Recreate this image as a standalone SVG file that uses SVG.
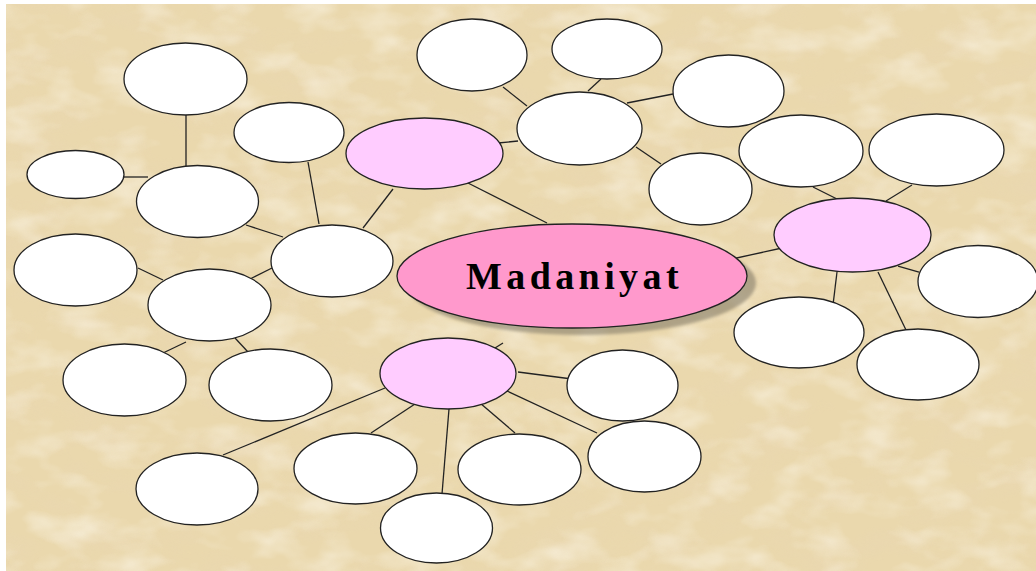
<svg xmlns="http://www.w3.org/2000/svg" width="1036" height="571" viewBox="0 0 1036 571">
<defs>
<filter id="tex" x="0" y="0" width="100%" height="100%">
<feTurbulence type="fractalNoise" baseFrequency="0.015 0.03" numOctaves="4" seed="7" result="n"/>
<feColorMatrix type="matrix" values="0 0 0 0 0.82  0 0 0 0 0.68  0 0 0 0 0.44  2.2 0 0 0 -0.95" />
</filter>
<filter id="tex2" x="0" y="0" width="100%" height="100%">
<feTurbulence type="fractalNoise" baseFrequency="0.02 0.035" numOctaves="3" seed="21"/>
<feColorMatrix type="matrix" values="0 0 0 0 0.98  0 0 0 0 0.94  0 0 0 0 0.84  2.0 0 0 0 -0.9" />
</filter>
<filter id="blur" x="-10%" y="-20%" width="120%" height="140%"><feGaussianBlur stdDeviation="1.5"/></filter>
</defs>
<style>
.n{fill:#fff;stroke:#222;stroke-width:1.3}
.p{fill:#ffccff;stroke:#222;stroke-width:1.3}
.c{fill:#ff99cc;stroke:#222;stroke-width:1.3}
.e line{stroke:#222;stroke-width:1.3}
.t{font-family:"Liberation Serif","Times New Roman",serif;font-weight:bold;font-size:38px;fill:#000;letter-spacing:4.4px}
</style>
<rect x="0" y="0" width="1036" height="571" fill="#ffffff"/>
<rect x="6" y="4" width="1030" height="567" fill="#ead8ad"/>
<rect x="6" y="4" width="1030" height="567" filter="url(#tex)" opacity="0.8"/>
<rect x="6" y="4" width="1030" height="567" filter="url(#tex2)" opacity="0.6"/>
<g id="connectors" class="e">
<line x1="186" y1="115" x2="186" y2="166"/>
<line x1="124" y1="177" x2="148" y2="177"/>
<line x1="246" y1="225" x2="283" y2="237"/>
<line x1="308" y1="162" x2="319" y2="224"/>
<line x1="393" y1="189" x2="363" y2="228"/>
<line x1="138" y1="268" x2="163" y2="280"/>
<line x1="250" y1="279" x2="272" y2="268"/>
<line x1="163" y1="353" x2="186" y2="342"/>
<line x1="235" y1="338" x2="248" y2="352"/>
<line x1="498" y1="143" x2="518" y2="141"/>
<line x1="468" y1="183" x2="547" y2="223"/>
<line x1="503" y1="87" x2="527" y2="106"/>
<line x1="601" y1="79" x2="588" y2="91"/>
<line x1="627" y1="103" x2="673" y2="94"/>
<line x1="636" y1="147" x2="661" y2="164"/>
<line x1="732" y1="259" x2="782" y2="248"/>
<line x1="813" y1="187" x2="837" y2="199"/>
<line x1="912" y1="185" x2="886" y2="201"/>
<line x1="898" y1="266" x2="919" y2="272"/>
<line x1="837" y1="272" x2="833" y2="305"/>
<line x1="878" y1="272" x2="906" y2="330"/>
<line x1="495" y1="348" x2="503" y2="343"/>
<line x1="518" y1="372" x2="572" y2="379"/>
<line x1="507" y1="391" x2="597" y2="433"/>
<line x1="480" y1="403" x2="515" y2="433"/>
<line x1="449" y1="409" x2="442" y2="494"/>
<line x1="415" y1="404" x2="371" y2="433"/>
<line x1="385" y1="388" x2="223" y2="455"/>
</g>
<g id="n-a"><ellipse class="n" cx="185.5" cy="79" rx="61.5" ry="36"/></g>
<g id="n-b"><ellipse class="n" cx="75.5" cy="174.5" rx="48.5" ry="24"/></g>
<g id="n-c"><ellipse class="n" cx="197.5" cy="201.5" rx="61" ry="36"/></g>
<g id="n-d"><ellipse class="n" cx="289" cy="132.5" rx="55" ry="30"/></g>
<g id="n-e"><ellipse class="n" cx="332" cy="261" rx="61" ry="36"/></g>
<g id="n-f"><ellipse class="n" cx="75.5" cy="270" rx="61.5" ry="36"/></g>
<g id="n-g"><ellipse class="n" cx="209.5" cy="305" rx="61.5" ry="36"/></g>
<g id="n-h"><ellipse class="n" cx="124.5" cy="380" rx="61.5" ry="36"/></g>
<g id="n-i"><ellipse class="n" cx="270.5" cy="385" rx="61.5" ry="36"/></g>
<g id="pink-1"><ellipse class="p" cx="424.5" cy="153.5" rx="78.5" ry="35.5"/></g>
<g id="n-j"><ellipse class="n" cx="472" cy="55" rx="55" ry="36"/></g>
<g id="n-k"><ellipse class="n" cx="607" cy="49" rx="55" ry="30"/></g>
<g id="n-l"><ellipse class="n" cx="728.5" cy="91" rx="55.5" ry="36"/></g>
<g id="n-m"><ellipse class="n" cx="579.5" cy="128.5" rx="62.5" ry="36.5"/></g>
<g id="n-n"><ellipse class="n" cx="700.5" cy="189" rx="51.5" ry="36"/></g>
<g id="n-o"><ellipse class="n" cx="801" cy="151" rx="62" ry="36"/></g>
<g id="n-p"><ellipse class="n" cx="936.5" cy="150" rx="67.5" ry="36"/></g>
<g id="pink-2"><ellipse class="p" cx="852.5" cy="235" rx="78.5" ry="37"/></g>
<g id="n-q"><ellipse class="n" cx="978" cy="281.5" rx="60" ry="36"/></g>
<g id="n-r"><ellipse class="n" cx="799" cy="332.5" rx="65" ry="35.5"/></g>
<g id="n-s"><ellipse class="n" cx="918" cy="364.5" rx="61" ry="35.5"/></g>
<g id="center">
<ellipse cx="581" cy="283" rx="175" ry="52" fill="#7d7464" opacity="0.55" filter="url(#blur)"/>
<ellipse class="c" cx="572" cy="276" rx="175" ry="52"/>
<text class="t" x="466" y="289">Madaniyat</text>
</g>
<g id="pink-3"><ellipse class="p" cx="448" cy="373.5" rx="68" ry="35.5"/></g>
<g id="n-t"><ellipse class="n" cx="622.5" cy="385.5" rx="55.5" ry="35.5"/></g>
<g id="n-u"><ellipse class="n" cx="644.5" cy="456.5" rx="56.5" ry="35.5"/></g>
<g id="n-v"><ellipse class="n" cx="519.5" cy="469.5" rx="61.5" ry="35.5"/></g>
<g id="n-w"><ellipse class="n" cx="355.5" cy="468.5" rx="61.5" ry="35.5"/></g>
<g id="n-x"><ellipse class="n" cx="197" cy="489" rx="61" ry="36"/></g>
<g id="n-y"><ellipse class="n" cx="436.5" cy="528" rx="56" ry="35"/></g>
</svg>
